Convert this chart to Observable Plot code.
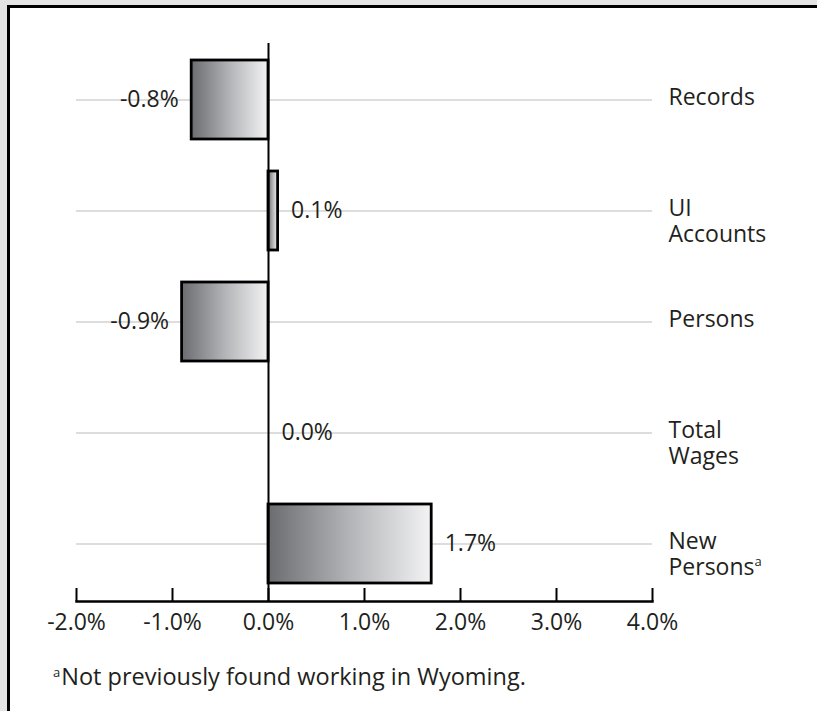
<!DOCTYPE html>
<html>
<head>
<meta charset="utf-8">
<script src="https://cdn.jsdelivr.net/npm/d3@7"></script>
<script src="https://cdn.jsdelivr.net/npm/@observablehq/plot@0.6"></script>
<style>
  html, body { margin: 0; padding: 0; background: #e4e4e4; width: 817px; height: 711px; overflow: hidden; }
  #frame { position: absolute; left: 7px; top: 5px; width: 807px; height: 703px;
           border-top: 3px solid #000; border-left: 3px solid #000; background: #fff; overflow: hidden;
           font-family: "Open Sans", sans-serif; color: #231f20; }
  #frame svg { position: absolute; left: 0; top: 0; }
  #note { position: absolute; left: 43px; top: 654px; font-size: 23.5px; line-height: 28px; white-space: nowrap; }
  #note sup { font-size: 13px; vertical-align: baseline; position: relative; top: -0.62em; margin-right: 1px; }
</style>
</head>
<body>
<div id="frame"><div id="note"></div></div>
<script>
const categories = ["Records", "UI\nAccounts", "Persons", "Total\nWages", "New\nPersons"];
const values = [-0.8, 0.1, -0.9, 0.0, 1.7];
const xTicks = [-2, -1, 0, 1, 2, 3, 4];
const noteMark = "a";
const noteText = "Not previously found working in Wyoming.";

const data = categories.map((c, i) => ({category: c, value: values[i]}));
const pct = d => d.toFixed(1) + "%";
const ink = "#231f20";
const fs = 23;

const chart = Plot.plot({
  width: 807,
  height: 640,
  marginLeft: 66,
  marginRight: 165,
  marginTop: 35,
  marginBottom: 47,
  style: {fontFamily: "'Open Sans', sans-serif", fontSize: fs + "px", background: "transparent", color: ink},
  x: {domain: [-2, 4], ticks: xTicks, tickFormat: pct, label: null},
  y: {domain: categories, paddingInner: 0.2857, paddingOuter: 0.134, axis: null},
  marks: [
    Plot.ruleY(data, {y: "category", x1: -2, x2: 4, stroke: "#d2d2d2", strokeWidth: 1.5}),
    Plot.barX(data, {x: "value", y: "category", fill: "url(#barGrad)", stroke: "#000", strokeWidth: 2.8}),
    Plot.ruleX([0], {stroke: "#000", strokeWidth: 2}),
    Plot.ruleX(xTicks, {x: d => d, insetTop: 545, stroke: "#000", strokeWidth: 2}),
    Plot.frame({anchor: "bottom", stroke: "#000", strokeWidth: 2.5}),
    Plot.axisX({ticks: xTicks, tickSize: 0, tickPadding: 12, tickFormat: pct, fontSize: fs, fill: ink, label: null}),
    Plot.text(data.filter(d => d.value < 0), {x: "value", y: "category", text: d => pct(d.value),
      textAnchor: "end", dx: -13, fontSize: fs, fill: ink}),
    Plot.text(data.filter(d => d.value >= 0), {x: "value", y: "category", text: d => pct(d.value),
      textAnchor: "start", dx: 13, fontSize: fs, fill: ink}),
    Plot.text(data, {y: "category", text: "category", frameAnchor: "right", textAnchor: "start",
      lineAnchor: "top", lineHeight: 1.14, dx: 16, dy: -14, fontSize: fs, fill: ink})
  ]
});

// gradient for bars (dark left, light right)
const defs = d3.select(chart).insert("defs", ":first-child");
const grad = defs.append("linearGradient").attr("id", "barGrad")
  .attr("x1", 0).attr("x2", 1).attr("y1", 0).attr("y2", 0);
grad.append("stop").attr("offset", 0).attr("stop-color", "#6b6c70");
grad.append("stop").attr("offset", 0.5).attr("stop-color", "#b3b4b7");
grad.append("stop").attr("offset", 1).attr("stop-color", "#f3f3f4");

// footnote marker on "New Persons"
d3.select(chart).selectAll("tspan")
  .filter(function () { return this.textContent === "Persons"; })
  .append("tspan").attr("dy", -9).attr("font-size", 13).text(noteMark);

document.getElementById("frame").insertBefore(chart, document.getElementById("note"));
const note = document.getElementById("note");
const sup = document.createElement("sup");
sup.textContent = noteMark;
note.appendChild(sup);
note.appendChild(document.createTextNode(noteText));
</script>
</body>
</html>
